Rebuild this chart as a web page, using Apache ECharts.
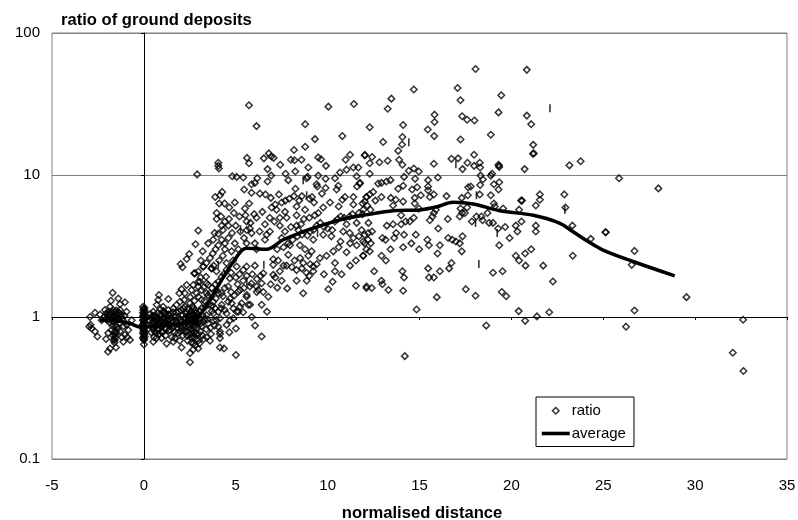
<!DOCTYPE html>
<html><head><meta charset="utf-8">
<style>html,body{margin:0;padding:0;background:#fff}#c{width:798px;height:520px}</style>
<script src="https://cdn.jsdelivr.net/npm/echarts@6/dist/echarts.min.js"></script>
</head><body><div id="c"></div>
<script>
const xTicks=[-5,0,5,10,15,20,25,30,35];
const yTicks=[0.1,1,10,100];
const averageCurve=[[-2.4,0.95],[-1.5,0.94],[-0.75,0.9],[-0.21,0.85],[0.5,0.86],[1.6,0.88],[2.51,0.93],[2.96,1],[3.6,1.32],[4.23,1.82],[4.87,2.45],[5.59,3.05],[6.68,3],[7.58,3.5],[8.7,4],[9.76,4.45],[11,4.95],[12.1,5.24],[13.56,5.6],[15,5.68],[15.9,5.95],[16.83,6.43],[17.92,6.25],[19.37,5.6],[21.19,5.2],[22.64,4.57],[23.4,3.95],[24.17,3.4],[24.99,2.96],[26.62,2.46],[28.89,1.95]];
const ratioLeft=[[-1.7,1.48],[-1.39,1.35],[-1.79,1.3],[-1.03,1.27],[-1.3,1.23],[-1.84,1.18],[-2.66,1.07],[-2.93,1],[-2.39,1.04],[-2.12,1.12],[-1.84,1.06],[-1.57,1.09],[-1.3,1.12],[-0.94,1.09],[-1.75,0.98],[-1.48,0.95],[-2.03,0.98],[-2.3,0.95],[-1.21,1],[-2.97,0.855],[-2.84,0.83],[-2.66,0.79],[-2.53,0.73],[-2.06,0.7],[-1.94,0.77],[-1.75,0.81],[-1.48,0.855],[-1.57,0.75],[-1.66,0.69],[-1.52,0.61],[-1.84,0.6],[-1.95,0.57],[-1.12,0.67],[-0.76,0.69],[-1.03,0.75],[-0.85,0.81],[-1.3,0.79],[-0.94,0.88],[-0.66,0.95],[-1.95,1.03],[-1.88,0.92],[-1.8,1.02],[-1.72,1.08],[-1.65,0.93],[-1.6,1.01],[-1.55,0.87],[-1.45,1.05],[-1.38,0.97],[-1.32,0.91],[-1.25,1.04],[-2.15,1],[-2.05,1.06],[-1.7,0.86],[-1.62,0.78],[-1.55,0.72],[-1.6,0.66],[-1.2,0.72],[-1.1,0.86],[-0.9,0.72],[-2.9,0.88],[-1.98,0.95],[-1.9,1.09],[-1.77,0.95],[-1.68,1.12],[-1.62,0.98],[-1.5,1.11],[-1.42,1],[-1.35,1.07],[-1.68,0.74],[-1.58,0.69],[-1.5,0.78],[-1.42,0.83],[-1.15,0.95],[-1.05,1.02]];
const ratioZero=[[-0.05,1.18],[0,1.14],[0.05,1.1],[-0.05,1.07],[0,1.05],[0.05,1.03],[-0.05,1.01],[0,0.99],[0.05,0.97],[-0.05,0.95],[0,0.93],[0.05,0.91],[-0.05,0.89],[0,0.87],[0.05,0.85],[-0.05,0.83],[0,0.81],[0.05,0.79],[-0.05,0.77],[0,0.75],[0.05,0.73],[-0.05,0.71],[0,0.69],[0,0.64],[0.03,1.16],[-0.03,1.12],[0.02,1.08],[-0.02,1.02],[0.03,0.98],[-0.02,0.96],[0.02,0.92],[-0.03,0.88],[0.03,0.84],[-0.02,0.8],[0.02,0.76],[-0.02,0.72],[0.02,0.7]];
const ratioBlob=[[0.82,1.43],[0.78,1.32],[1.33,1.34],[0.7,1.22],[0.51,1.09],[1.05,1.18],[1.33,1.12],[1.6,1.15],[1.78,1.22],[1.96,1.28],[0.42,1],[0.3,0.95],[0.35,1.05],[0.45,0.9],[0.5,0.83],[0.4,0.78],[0.55,0.72],[0.51,0.67],[0.6,1.02],[0.65,0.93],[0.7,0.87],[0.68,0.77],[0.69,0.71],[0.75,1.07],[0.8,0.98],[0.85,0.91],[0.82,0.82],[0.9,1.13],[0.92,1.02],[0.96,0.86],[0.96,0.71],[1.0,0.97],[1.02,0.78],[1.08,1.06],[1.1,0.92],[1.14,0.84],[1.18,0.74],[1.24,0.65],[1.25,1.0],[1.3,0.89],[1.35,0.8],[1.42,0.81],[1.45,1.05],[1.5,0.94],[1.52,0.72],[1.6,0.67],[1.65,0.86],[1.69,0.71],[1.72,1.0],[1.8,0.91],[1.85,0.77],[1.9,1.09],[1.95,0.68],[2.05,0.61],[2.0,0.96],[2.05,0.84],[2.1,1.03],[2.12,0.74],[2.15,1.15],[2.2,0.89],[2.23,1.18],[2.25,0.98],[2.3,0.79],[2.35,1.08],[2.38,0.68],[2.4,0.93],[2.42,0.85],[2.45,1.02],[2.48,0.76],[2.51,0.48],[2.51,0.555],[2.51,1.25],[2.55,0.9],[2.58,0.66],[2.6,1.1],[2.62,0.97],[2.65,0.8],[2.69,0.59],[2.69,1.15],[2.7,0.72],[2.72,1.03],[2.75,0.88],[2.78,0.94],[2.8,0.63],[2.82,1.07],[2.85,0.76],[2.88,0.84],[2.9,1],[2.96,0.6],[2.96,1.39],[2.96,0.68],[3.0,0.93],[3.05,1.1],[3.08,0.79],[3.14,1.32],[3.14,0.86],[3.2,1.03],[3.25,0.7],[3.3,0.97],[3.41,1.03],[3.4,0.82],[3.5,0.9],[3.6,0.68],[3.6,1.47],[3.65,0.76],[3.7,1.1],[3.78,1.06],[3.78,1.28],[3.85,0.87],[3.95,0.95],[4.05,1.47],[4.05,1.09],[4.05,0.855],[4.14,0.98],[4.14,0.79],[4.14,0.71],[4.14,0.76],[4.2,1.15],[4.23,1.22],[4.36,0.6],[4.14,0.61],[4.5,1.06],[4.5,0.88],[4.59,1.28],[4.59,1.64],[4.65,0.78],[4.69,1.35],[4.69,0.95],[4.87,0.98],[4.87,1.15],[5.01,0.83],[5.01,0.54],[5.14,1.51],[5.14,1.09],[5.23,1.18],[5.68,1.22],[5.05,1.09],[5.32,1.25],[5.87,1],[6.05,0.87],[6.41,0.73],[5.78,1.22],[6.7,1.09],[6.41,1.22],[5.6,1.43],[6.14,1.5],[2.33,1.68],[2.47,2.78],[2.33,2.56],[2,2.36],[2.1,2.24],[3.23,2.26],[3.69,2.2],[2.78,2.03],[2.96,2.09],[3.38,1.92],[3.09,1.9],[2.96,1.77],[2.69,1.68],[2.05,1.57],[1.93,1.47],[2.23,1.47],[2.6,1.55],[3.14,1.55],[2.96,1.64],[3.5,1.68],
[0.38,0.86],[0.44,0.96],[0.48,1.02],[0.52,0.92],[0.56,0.86],[0.58,0.79],[0.62,0.98],[0.72,0.95],[0.74,0.81],[0.78,0.9],[0.84,0.76],[0.88,0.95],[0.88,1.05],[0.94,0.79],[0.98,0.92],[1.04,0.88],[1.06,1.1],[1.12,0.98],[1.16,0.9],[1.2,1.06],[1.22,0.82],[1.28,0.94],[1.34,1.04],[1.38,0.96],[1.4,0.87],[1.48,0.99],[1.55,0.84],[1.58,1.08],[1.62,0.93],[1.68,0.78],[1.75,0.94],[1.76,1.08],[1.82,0.84],[1.88,0.99],[1.92,0.88],[1.98,0.79],[2.02,1.12],[2.08,0.93],[2.14,0.8],[2.18,0.97],[2.22,0.84],[2.28,1.06],[2.32,0.92],[2.36,0.74],[2.38,1.14],[2.43,0.97],[2.46,0.88],[2.5,1.06],[2.52,0.95],[2.54,0.83],[2.56,0.72],[2.58,1.02],[2.6,0.9],[2.62,0.76],[2.64,1.19],[2.66,1.05],[2.68,0.93],[2.7,0.65],[2.73,0.84],[2.76,0.98],[2.78,0.78],[2.8,1.12],[2.84,0.93],[2.86,0.7],[2.92,0.89],[2.94,1.05],[2.98,0.76],[3.02,0.65],[3.04,0.98],[3.1,0.9],[3.16,1.16],[3.18,0.74],[3.24,0.93],[3.35,1.18],[3.42,0.72],[3.45,0.96],[3.55,1.22],[3.62,0.84],[3.72,1.2],[3.8,0.94],[3.88,1.15],[3.92,1.35],[4.3,1.4],[4.4,1.12],[4.78,1.25],[4.92,1.42],[5.4,1.08],[3.3,1.3],[3.48,1.42],[3.25,1.62],[2.52,1.38],[2.75,1.3],[2.2,1.32],[3.7,1.6],[3.9,1.7],[4.4,1.6],[4.75,1.5],[5.1,1.7],[5.45,1.6],[5.85,1.72]];
const ratioMiddle=[[5.72,31],[10.04,30.3],[11.43,31.6],[6.13,22.1],[8.78,22.8],[10.8,18.8],[9.31,17.9],[8.78,15.8],[8.17,15],[6.8,14.2],[6.93,13.5],[6.53,13.1],[7.06,13.2],[5.61,13.2],[5.72,12.1],[4.05,12.2],[4.05,11.6],[4.08,11.1],[11.22,13.9],[12.03,13.8],[10.98,12.8],[9.49,13.3],[9.64,12.9],[8,12.8],[8.2,12.7],[8.58,12.8],[7.42,11.8],[9.91,11.6],[8.95,11.3],[6.73,11],[8.24,10.6],[11.4,11.3],[11.67,11.3],[11.03,10.9],[10.67,10.4],[2.9,10.1],[4.81,9.8],[5.05,9.7],[5.41,9.6],[6.93,9.9],[7.71,10.2],[9.49,9.9],[10.4,9.5],[9.89,9.4],[11.58,9.8],[8.91,9.7],[8.86,9.5],[7.86,9.2],[6.17,9.5],[6.73,9],[6.04,8.8],[5.86,8.6],[9.4,8.6],[11.76,8.8],[11.6,8.3],[10.58,8.4],[8.25,8],[9.89,8.1],[10.49,7.9],[9.44,8.3],[5.46,7.9],[5.86,7.5],[4.26,7.6],[6.31,7.4],[6.62,7.3],[7.35,7.3],[6.91,6.9],[4.14,7.2],[3.88,7],[8.17,7.1],[9.69,7.4],[7.91,6.8],[10.94,7],[11.4,7],[12.12,7],[9.26,6.4],[4.1,6.3],[4.39,6.3],[4.95,6.4],[5.73,6.3],[5.5,5.8],[4.65,5.9],[7.22,5.7],[7.68,5.5],[8.31,6],[8.77,5.7],[10.13,6.4],[9.76,5.9],[9.49,5.4],[11.4,6.2],[11.94,5.7],[8.31,5.2],[7.77,5],[3.96,5.4],[5.53,5.2],[6.13,5],[3.96,4.9],[4.63,4.9],[4.41,4.7],[5.59,4.7],[6.59,4.5],[8.71,4.9],[10.71,5.1],[11.03,4.5],[11.58,4.6],[7.4,4.4],[8.31,4.4],[2.96,4.06],[4.23,4.4],[5.77,4.2],[6.86,4],[6.68,3.8],[6.3,4],[7.68,4],[8.4,4.1],[9.22,4.1],[9.8,4.3],[10.85,4],[10.25,4.1],[12.21,3.9],[4.05,3.85],[3.77,3.5],[2.81,3.25],[4.41,3.3],[5.86,3.9],[6.59,3.5],[7.5,3.6],[9.22,3.5],[9.76,3.8],[10.2,3.7],[8.49,3.2],[8.77,3],[9.13,2.9],[8.95,2.7],[7.95,3.2],[11.22,3.3],[11.94,3.4],[11.58,3.2],[11.03,2.86],[10.31,2.9],[9.94,2.7],[9.58,2.6],[7.86,2.74],[7.31,2.5],[7.04,2.55],[7.04,2.33],[7.77,2.3],[8.67,2.4],[8.31,2.14],[9.22,2.27],[9.22,2.1],[9.8,2],[10.4,2.4],[10.4,2.1],[10.76,2],[11.22,2.3],[11.54,2.5],[11.94,2.7],[10.27,1.77],[8.86,1.8],[8.31,1.8],[7.5,1.8],[7.04,1.98],[6.5,2.03],[6.04,2.3],[5.59,2.27],[5.05,2.27],[4.68,1.87],[6.13,1.64],[6.41,1.73],[5.23,1.55],[10.04,1.57],[11.54,1.66],[12.12,1.64],[7.26,1.61],[7.8,1.59],[8.67,1.47],[6.77,1.39],[5.59,1.39],[3.68,2.2],[3.23,2.27],[2.74,2.03],[3.05,1.77],[3.41,1.73],[4.23,1.92],[4.05,1.77],[3.96,1.55],[4.23,1.47],[3.41,1.47],[2.87,1.47],[4.86,2.5],[4.77,2.9],[4.41,3],[4.05,3.2],[5.14,3],[4.95,3.3],[4.23,3.5],[6.04,3.3],[5.59,3.3],[6.13,3],[5.77,1.64],[6.22,1.55],[5.41,2.14],[3.2,2.9],[3.5,3.3],[3.75,2.8],[3.9,3],[4.1,2.5],[4.3,2.7],[4.5,2.4],[4.6,3.6],[4.8,3.9],[5,4.4],[5.25,4],[5.45,3.6],[5.6,4.1],[5.8,4.6],[6,5.3],[5.2,5.1],[4.9,5.4],[4.6,4.4],[4.3,4.1],[4.2,5.1],[3.85,3.9],[3.6,2.6],[3.4,2.4],[3.1,2.5],[3.8,2.3],[3.95,2.1],[4.35,2],[4.5,2.15],[4.75,2.05],[5,1.9],[5.2,2],[5.4,1.8],[5.6,1.95],[5.9,2],[6.15,1.85],[6.35,1.95],[6.5,1.5],[6.9,1.7],[7.15,1.9],[7.4,2.1],[7.6,2.3],[8.05,2.25],[8.2,2.5],[8.5,2.6],[8.6,2.2],[8.85,2.05],[9,1.95],[9.05,2.35],[9.4,2.35],[7.25,3],[7.6,3.1],[7.85,3.3],[8.1,3.5],[8.35,3.7],[8.6,3.8],[8.9,3.75],[9.05,4],[9.4,4.4],[9.6,4.6],[10,4.2],[10.4,4.7],[10.55,4.9],[10.9,5],[11.2,5.1],[11.35,5.3],[11.7,5.4],[11.9,5.3],[8,4.3],[8.55,4.5],[9,5],[9.3,5.2],[7.4,5],[7.1,4.7],[6.85,5],[6.45,5.5],[6.95,5.9],[7.15,6.2],[7.5,6.4],[7.7,6.6],[8.45,6.6],[8.6,7.1],[9,6.8],[9.15,7],[10.6,6],[10.8,6.7],[11.9,6.3],[12.15,6.1],[11.85,4.1],[11.7,3.7],[11.4,3.6],[11.2,3.9],[10.7,3.4],[10.6,3.1]];
const ratioRight=[[18.05,55.8],[20.84,55],[17.07,41],[14.69,40],[19.45,36.4],[13.47,34.5],[17.23,33.6],[13.27,29.3],[19.3,27.6],[15.82,26.6],[20.84,26.2],[17.32,25.9],[17.59,24.5],[17.99,24.2],[15.82,23.6],[21.08,22.8],[14.11,22.5],[12.29,21.7],[15.45,20.9],[18.88,19.2],[15.8,18.8],[14.07,18.5],[17.23,17.8],[13.02,17.1],[14.05,16.4],[21.19,16.3],[13.84,14.8],[21.17,14.1],[21.22,14.2],[12.02,13.8],[12.42,13.4],[17.97,13.9],[16.74,13],[17.1,13.1],[13.89,12.8],[13.27,12.6],[12.29,12.1],[12.82,12.3],[14.07,11.8],[15.78,12],[17.61,12.2],[17.97,11.6],[18.28,12.2],[18.3,11.3],[19.32,11.6],[19.34,11.4],[19.3,11.8],[20.72,11],[17.34,11],[14.42,10.7],[14.69,11.1],[14.96,10.6],[12.29,10.2],[14.16,9.7],[18.95,10.2],[18.88,9.9],[18.32,9.9],[18.45,9.3],[16,9.6],[14.76,9.4],[15.47,9.2],[13.42,9.2],[13.2,9],[12.93,8.8],[12.75,8.7],[19.34,8.9],[19.05,8.6],[18.3,8.5],[14.11,8.4],[13.84,8],[11.75,8.7],[14.87,8.2],[15.47,8.3],[15.47,7.8],[14.6,7.9],[19.3,7.9],[17.79,8.3],[17.65,8.2],[12.48,7.6],[12.29,7.3],[12.11,7],[15.07,7.2],[15.78,7.3],[15.56,7],[16.47,7.1],[17.63,7.2],[18.28,7.3],[18.88,7.2],[21.55,7.3],[22.88,7.3],[12.93,7],[13.44,6.9],[13.71,6.7],[14.11,6.5],[14.74,6.9],[17.3,6.9],[12.6,6.6],[12.02,6.5],[21.55,6.7],[21.33,6.1],[20.53,6.6],[20.58,6.6],[19.05,6.3],[13.56,6.1],[14.74,6.3],[12.33,5.7],[19.1,6],[19.55,5.8],[20.42,5.7],[14.96,5.8],[15.89,5.7],[15.78,5.4],[17.23,5.8],[17.59,5.9],[17.32,5.4],[17.47,5.4],[17.19,5.1],[15.71,5.1],[16.54,4.9],[14,5.2],[18.1,5.1],[18.37,5.1],[18.7,5.4],[17.85,4.7],[18.43,4.8],[18.79,4.6],[19,4.6],[19.28,4.2],[19.66,4.3],[20.55,4.7],[20.24,4.4],[20.33,4],[21.33,4.4],[21.33,4],[19.9,3.6],[15.56,4.8],[16.02,4.2],[14.47,4.7],[14.69,5],[14.25,4.7],[14,4.5],[13.56,4.5],[13.22,4.4],[12.22,4.6],[13.73,3.9],[14.16,3.8],[13.62,3.6],[12.42,4],[12.02,3.8],[12.2,3.5],[12.35,3.3],[12.02,3.3],[12.98,3.6],[13.15,3.5],[13.42,3],[14.8,3.8],[14.56,3.3],[14.11,3.1],[14.98,3],[15.43,3.5],[15.51,3.2],[16.11,3.2],[15.98,2.8],[16.56,3.6],[16.78,3.5],[16.98,3.4],[17.34,3.7],[17.19,3.3],[17.3,2.9],[19.34,3.2],[21.08,3],[20.75,2.8],[20.24,2.7],[20.42,2.5],[20.77,2.3],[21.73,2.3],[12.11,3],[11.93,2.7],[12.29,2.9],[12.93,2.7],[13.17,2.5],[16.74,2.4],[16.61,2.2],[15.47,2.2],[16.11,2.1],[15.78,1.9],[15.52,1.9],[14.07,2.1],[14.16,1.9],[12.53,2.1],[12.93,1.8],[12.98,1.7],[12.11,1.6],[12.4,1.6],[13.31,1.55],[14.11,1.53],[19,2.05],[19.52,2.1],[22.26,1.78],[17.52,1.57],[18.05,1.41],[15.94,1.38],[19.48,1.5],[19.72,1.4],[14.84,1.13],[20.4,1.1],[22.06,1.08],[20.75,0.94],[21.39,1.01],[18.63,0.87],[14.2,0.53],[23.16,11.7],[23.77,12.5],[25.86,9.5],[28,8.05],[22.94,5.9],[23.32,4.4],[25.12,3.95],[25.14,3.95],[24.32,3.55],[23.34,2.7],[26.7,2.92],[26.55,2.33],[29.53,1.38],[26.7,1.11],[26.24,0.855],[32.61,0.957],[32.05,0.56],[32.63,0.417]];
const dashMarks=[[22.1,29.5],[14.42,17],[18.23,2.36],[16.98,11.9],[18.05,4.6],[18.1,7.2],[19.23,3.9],[22.91,5.7],[5.26,4.15],[6.53,2.33],[8.86,7.2],[8.67,9.2],[9.45,3.9],[4.05,2.33],[5.6,1.78]];
const ratioPoints=[...ratioLeft,...ratioZero,...ratioBlob,...ratioMiddle,...ratioRight];

const font='"Liberation Sans", Arial, sans-serif';
const chart=echarts.init(document.getElementById('c'),null,{renderer:'canvas'});
const axisGray='#808080';
chart.setOption({
  animation:false,
  backgroundColor:'#fff',
  textStyle:{fontFamily:font},
  title:{text:'ratio of ground deposits',left:61,top:12,padding:0,
    textStyle:{fontFamily:font,fontWeight:'bold',fontSize:16.6,color:'#000'}},
  grid:{left:52,right:11,top:33,bottom:61,show:true,outerBoundsMode:'none',containLabel:false,borderColor:axisGray,borderWidth:1,backgroundColor:'transparent'},
  legend:{
    left:536,top:397,orient:'vertical',
    data:[
      {name:'ratio',icon:'path://M0 0L0 0M14 6.7L17.3 10L14 13.3L10.7 10ZM28 20L28 20',itemStyle:{color:'transparent',borderColor:'#000',borderWidth:1.5}},
      {name:'average',icon:'path://M0 0L0 0M0 8.2H28V11.8H0ZM28 20L28 20',itemStyle:{color:'#000',borderWidth:0}}
    ],
    backgroundColor:'#fff',borderColor:'#000',borderWidth:1,borderRadius:0,
    padding:[3,8,3,5],itemGap:2,itemWidth:28,itemHeight:20,
    textStyle:{fontFamily:font,fontSize:15,color:'#000',padding:[2,0,0,-3]},
    selectedMode:false
  },
  xAxis:[
    {type:'value',min:-5,max:35,interval:5,position:'bottom',
     name:'normalised distance',nameLocation:'middle',nameGap:46,
     nameTextStyle:{fontFamily:font,fontWeight:'bold',fontSize:16.6,color:'#000',padding:[0,0,0,5]},
     axisLine:{show:false},axisTick:{show:false},splitLine:{show:false},
     axisLabel:{fontFamily:font,fontSize:15,color:'#000',margin:19,
       customValues:xTicks,formatter:v=>String(v)}},
    {type:'value',min:-5,max:35,interval:5,position:'bottom',offset:-142,
     axisLine:{show:true,onZero:false,lineStyle:{color:'#000',width:1}},
     axisTick:{show:true,length:3,lineStyle:{color:'#000'}},
     axisLabel:{show:false},splitLine:{show:false}}
  ],
  yAxis:[
    {type:'log',min:0.1,max:100,logBase:10,position:'left',
     axisLine:{show:false},axisTick:{show:false},
     splitLine:{show:true,lineStyle:{color:axisGray,width:1}},
     axisLabel:{fontFamily:font,fontSize:15,color:'#000',margin:12,padding:[5,0,0,0],
       formatter:v=>yTicks.includes(+v)?String(+v):''}},
    {type:'log',min:0.1,max:100,logBase:10,position:'left',offset:-92,
     axisLine:{show:true,onZero:false,lineStyle:{color:'#000',width:1}},
     axisTick:{show:true,length:3,lineStyle:{color:'#000'}},
     axisLabel:{show:false},splitLine:{show:false}}
  ],
  series:[
    {name:'ratio',type:'scatter',data:ratioPoints,symbol:'diamond',symbolSize:6.5,
     itemStyle:{color:'transparent',borderColor:'#000',borderWidth:1.5},z:3,silent:true},
    {name:'marks',type:'scatter',data:dashMarks,symbol:'rect',symbolSize:[1.6,8],
     itemStyle:{color:'#000'},z:3,silent:true},
    {name:'average',type:'line',data:averageCurve,smooth:0.35,symbol:'none',
     lineStyle:{color:'#000',width:3.5},itemStyle:{color:'#000'},z:4,silent:true}
  ]
});
</script></body></html>
